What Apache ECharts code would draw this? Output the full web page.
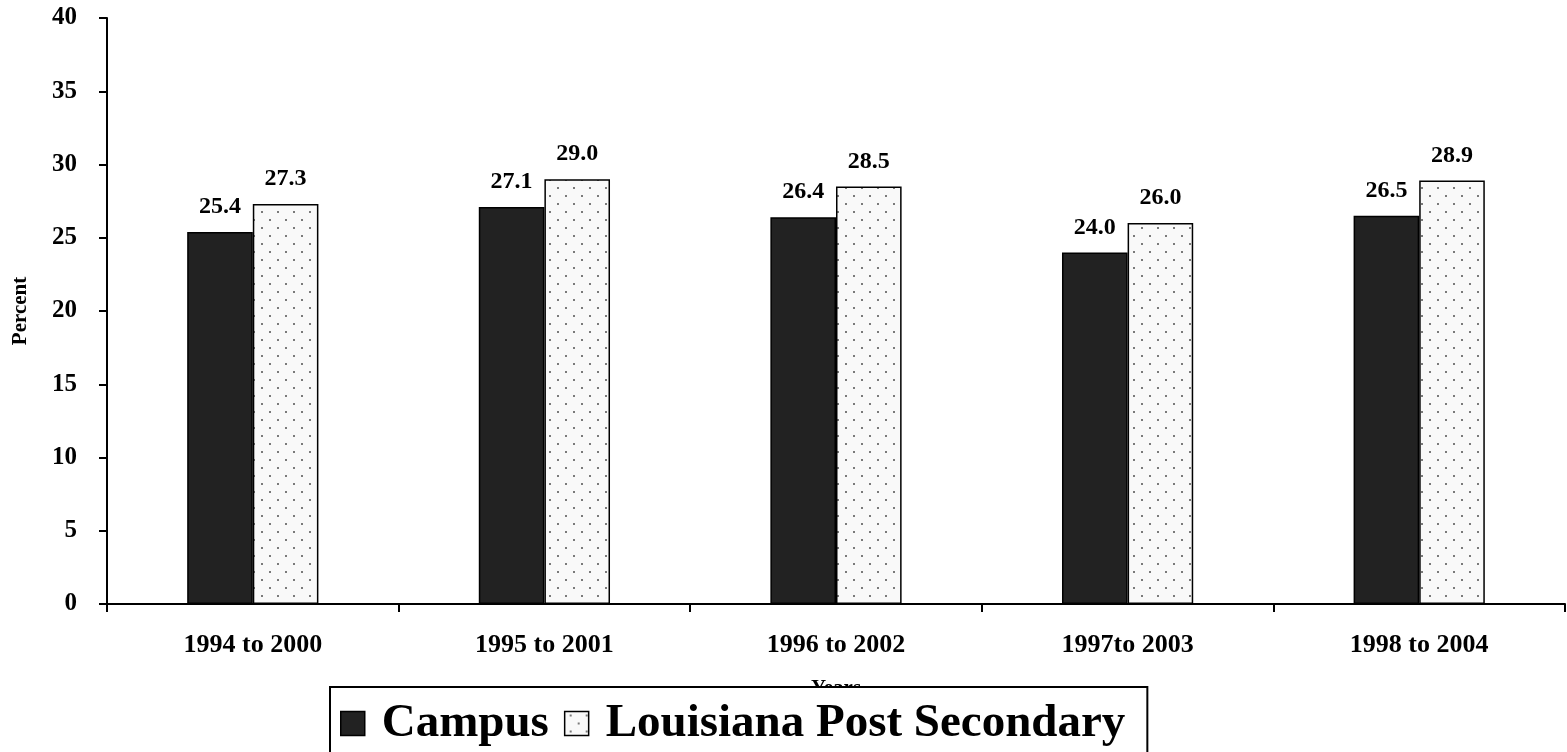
<!DOCTYPE html>
<html>
<head>
<meta charset="utf-8">
<script src="https://cdn.jsdelivr.net/npm/echarts@6/dist/echarts.min.js"></script>
<style>
  html, body { margin: 0; padding: 0; background: #fff; }
  #chart { width: 1567px; height: 752px; }
</style>
</head>
<body>
<div id="chart"></div>
<script>
const categories = ['1994 to 2000', '1995 to 2001', '1996 to 2002', '1997to 2003', '1998 to 2004']
const campus = [25.4, 27.1, 26.4, 24.0, 26.5]
const louisiana = [27.3, 29.0, 28.5, 26.0, 28.9]
const yTicks = [0, 5, 10, 15, 20, 25, 30, 35, 40]

const serif = '"Liberation Serif", "Times New Roman", serif'

// dotted fill for the second series
function dotPattern () {
  const c = document.createElement('canvas')
  c.width = 16
  c.height = 16
  const ctx = c.getContext('2d')
  ctx.fillStyle = '#f9f9f9'
  ctx.fillRect(0, 0, 16, 16)
  ctx.fillStyle = '#7a7a7a'
  ctx.fillRect(5, 3, 2, 2)
  ctx.fillRect(13, 11, 2, 2)
  return c
}

const chart = echarts.init(document.getElementById('chart'))
const dots = { image: dotPattern(), repeat: 'repeat' }

const labelStyle = {
  show: true,
  position: 'top',
  distance: 13,
  fontFamily: serif,
  fontWeight: 'bold',
  fontSize: 24,
  color: '#000',
  formatter: p => p.value.toFixed(1)
}

chart.setOption({
  animation: false,
  grid: { left: 107, right: 2, top: 18, bottom: 148, containLabel: false, outerBoundsMode: 'none' },
  legend: {
    left: 330,
    top: 687,
    padding: [13, 22, 30, 10],
    itemGap: 15,
    itemWidth: 24,
    itemHeight: 24,
    icon: 'rect',
    backgroundColor: '#fff',
    borderColor: '#000',
    borderWidth: 2,
    textStyle: { fontFamily: serif, fontWeight: 'bold', fontSize: 47, color: '#000', padding: [0, 0, 0, 12] },
    data: [
      { name: 'Campus', itemStyle: { color: '#222', borderColor: '#000', borderWidth: 1.5 } },
      { name: 'Louisiana Post Secondary', itemStyle: { color: dots, borderColor: '#000', borderWidth: 1.5 } }
    ]
  },
  xAxis: {
    type: 'category',
    data: categories,
    name: 'Years',
    nameLocation: 'middle',
    nameGap: 74,
    nameTextStyle: { fontFamily: serif, fontWeight: 'bold', fontSize: 21, color: '#000' },
    axisLine: { lineStyle: { color: '#000', width: 2 } },
    axisTick: { show: true, length: 8, lineStyle: { color: '#000', width: 2 } },
    axisLabel: { margin: 28, fontFamily: serif, fontWeight: 'bold', fontSize: 26, color: '#000' }
  },
  yAxis: {
    type: 'value',
    min: yTicks[0],
    max: yTicks[yTicks.length - 1],
    interval: 5,
    name: 'Percent',
    nameLocation: 'middle',
    nameGap: 76,
    nameTextStyle: { fontFamily: serif, fontWeight: 'bold', fontSize: 21, color: '#000' },
    splitLine: { show: false },
    axisLine: { show: true, lineStyle: { color: '#000', width: 2 } },
    axisTick: { show: true, length: 8, lineStyle: { color: '#000', width: 2 } },
    axisLabel: { margin: 30, fontFamily: serif, fontWeight: 'bold', fontSize: 25, color: '#000' }
  },
  series: [
    {
      name: 'Campus',
      type: 'bar',
      data: campus,
      barGap: '0%',
      barCategoryGap: '55%',
      itemStyle: { color: '#222', borderColor: '#000', borderWidth: 1.5 },
      label: labelStyle
    },
    {
      name: 'Louisiana Post Secondary',
      type: 'bar',
      data: louisiana,
      itemStyle: { color: dots, borderColor: '#000', borderWidth: 1.5 },
      label: labelStyle
    }
  ]
})
</script>
</body>
</html>
